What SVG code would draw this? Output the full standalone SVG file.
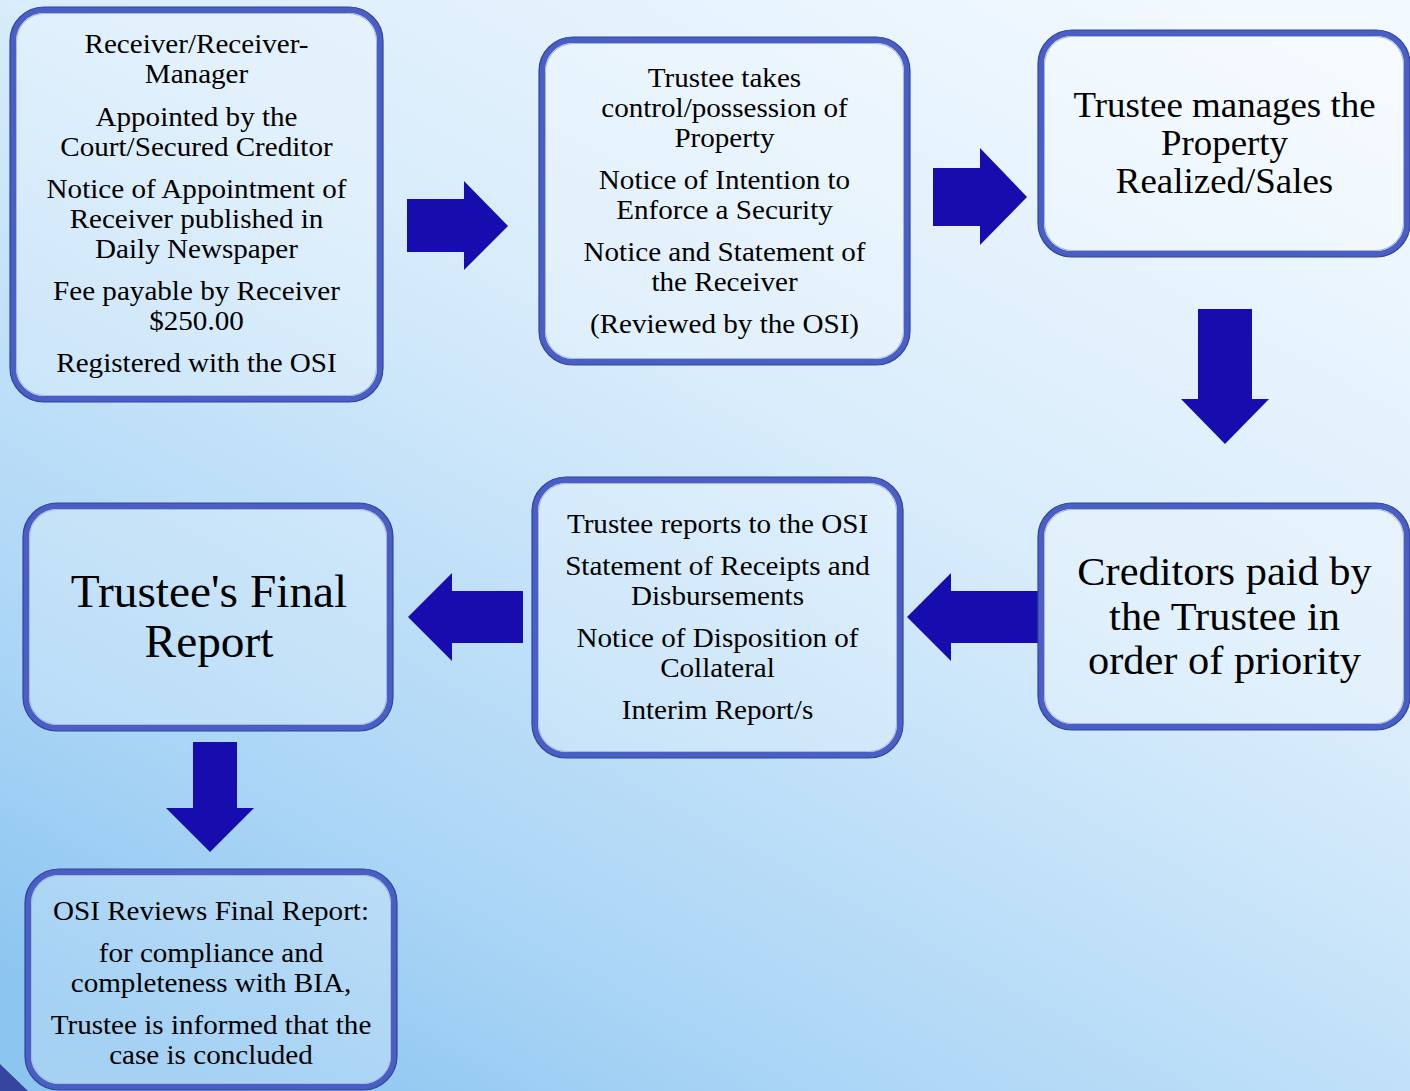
<svg xmlns="http://www.w3.org/2000/svg" width="1410" height="1091" viewBox="0 0 1410 1091">
<defs>
<linearGradient id="bg" x1="0.85" y1="0" x2="0.15" y2="1">
<stop offset="0" stop-color="#f2f9ff"/>
<stop offset="0.4" stop-color="#d8ecfb"/>
<stop offset="0.8" stop-color="#aad5f6"/>
<stop offset="1" stop-color="#8cc5f0"/>
</linearGradient>
<style>
.box{fill:#ffffff;fill-opacity:0.22;stroke:#4a5fc5;stroke-width:6}
.bo{fill:none;stroke:#33449a;stroke-width:1.2}
.bi{fill:none;stroke:#aab6d8;stroke-width:1}
.t{font-family:"Liberation Serif","Times New Roman",serif;fill:#000;text-anchor:middle}
.s{font-size:28px}
.arr{fill:#170cae}
</style>
</defs>
<rect x="0" y="0" width="1410" height="1091" fill="url(#bg)"/>
<polygon points="0,1064 0,1091 28,1091" fill="#34469e"/>

<g id="connectors">
<polygon class="arr" points="407,199 464,199 464,181 508,226 464,270 464,252 407,252"/>
<polygon class="arr" points="933,168 980,168 980,148 1027,197 980,245 980,226 933,226"/>
<polygon class="arr" points="1198,309 1252,309 1252,399 1269,399 1225,444 1181,399 1198,399"/>
<polygon class="arr" points="1042,591 951,591 951,573 907,617 951,661 951,643 1042,643"/>
<polygon class="arr" points="523,591 452,591 452,573 408,617 452,661 452,643 523,643"/>
<polygon class="arr" points="193,742 237,742 237,808 254,808 210,852 166,808 193,808"/>
</g>

<g id="node-receiver">
<rect class="box" x="13" y="10" width="367" height="389" rx="31"/>
<rect class="bo" x="10" y="7" width="373" height="395" rx="34"/>
<rect class="bi" x="16.5" y="13.5" width="360" height="382" rx="28"/>
<g transform="translate(196.5,0) scale(1.04,1)" class="t s">
<text x="0" y="53">Receiver/Receiver-</text>
<text x="0" y="83">Manager</text>
<text x="0" y="126">Appointed by the</text>
<text x="0" y="156">Court/Secured Creditor</text>
<text x="0" y="198">Notice of Appointment of</text>
<text x="0" y="228">Receiver published in</text>
<text x="0" y="258">Daily Newspaper</text>
<text x="0" y="300">Fee payable by Receiver</text>
<text x="0" y="330">$250.00</text>
<text x="0" y="372">Registered with the OSI</text>
</g>
</g>

<g id="node-trustee-control">
<rect class="box" x="542" y="40" width="365" height="322" rx="31"/>
<rect class="bo" x="539" y="37" width="371" height="328" rx="34"/>
<rect class="bi" x="545.5" y="43.5" width="358" height="315" rx="28"/>
<g transform="translate(724.5,0) scale(1.04,1)" class="t s">
<text x="0" y="87">Trustee takes</text>
<text x="0" y="117">control/possession of</text>
<text x="0" y="147">Property</text>
<text x="0" y="189">Notice of Intention to</text>
<text x="0" y="219">Enforce a Security</text>
<text x="0" y="261">Notice and Statement of</text>
<text x="0" y="291">the Receiver</text>
<text x="0" y="333">(Reviewed by the OSI)</text>
</g>
</g>

<g id="node-trustee-manages">
<rect class="box" x="1041" y="33" width="366" height="221" rx="31"/>
<rect class="bo" x="1038" y="30" width="372" height="227" rx="34"/>
<rect class="bi" x="1044.5" y="36.5" width="359" height="214" rx="28"/>
<g transform="translate(1224.5,0) scale(1.055,1)" class="t" font-size="35">
<text x="0" y="117">Trustee manages the</text>
<text x="0" y="155">Property</text>
<text x="0" y="193">Realized/Sales</text>
</g>
</g>

<g id="node-creditors">
<rect class="box" x="1041" y="506" width="366" height="221" rx="31"/>
<rect class="bo" x="1038" y="503" width="372" height="227" rx="34"/>
<rect class="bi" x="1044.5" y="509.5" width="359" height="214" rx="28"/>
<g transform="translate(1224.5,0) scale(1.06,1)" class="t" font-size="40">
<text x="0" y="585">Creditors paid by</text>
<text x="0" y="630">the Trustee in</text>
<text x="0" y="674">order of priority</text>
</g>
</g>

<g id="node-trustee-reports">
<rect class="box" x="535" y="480" width="365" height="275" rx="31"/>
<rect class="bo" x="532" y="477" width="371" height="281" rx="34"/>
<rect class="bi" x="538.5" y="483.5" width="358" height="268" rx="28"/>
<g transform="translate(717.5,0) scale(1.04,1)" class="t s">
<text x="0" y="533">Trustee reports to the OSI</text>
<text x="0" y="575">Statement of Receipts and</text>
<text x="0" y="605">Disbursements</text>
<text x="0" y="647">Notice of Disposition of</text>
<text x="0" y="677">Collateral</text>
<text x="0" y="719">Interim Report/s</text>
</g>
</g>

<g id="node-final-report">
<rect class="box" x="26" y="506" width="364" height="222" rx="31"/>
<rect class="bo" x="23" y="503" width="370" height="228" rx="34"/>
<rect class="bi" x="29.5" y="509.5" width="357" height="215" rx="28"/>
<g transform="translate(209,0) scale(1.03,1)" class="t" font-size="46">
<text x="0" y="607">Trustee's Final</text>
<text x="0" y="657">Report</text>
</g>
</g>

<g id="node-osi-reviews">
<rect class="box" x="28" y="872" width="366" height="215" rx="31"/>
<rect class="bo" x="25" y="869" width="372" height="221" rx="34"/>
<rect class="bi" x="31.5" y="875.5" width="359" height="208" rx="28"/>
<g transform="translate(211,0) scale(1.04,1)" class="t s">
<text x="0" y="920">OSI Reviews Final Report:</text>
<text x="0" y="962">for compliance and</text>
<text x="0" y="992">completeness with BIA,</text>
<text x="0" y="1034">Trustee is informed that the</text>
<text x="0" y="1064">case is concluded</text>
</g>
</g>
</svg>
